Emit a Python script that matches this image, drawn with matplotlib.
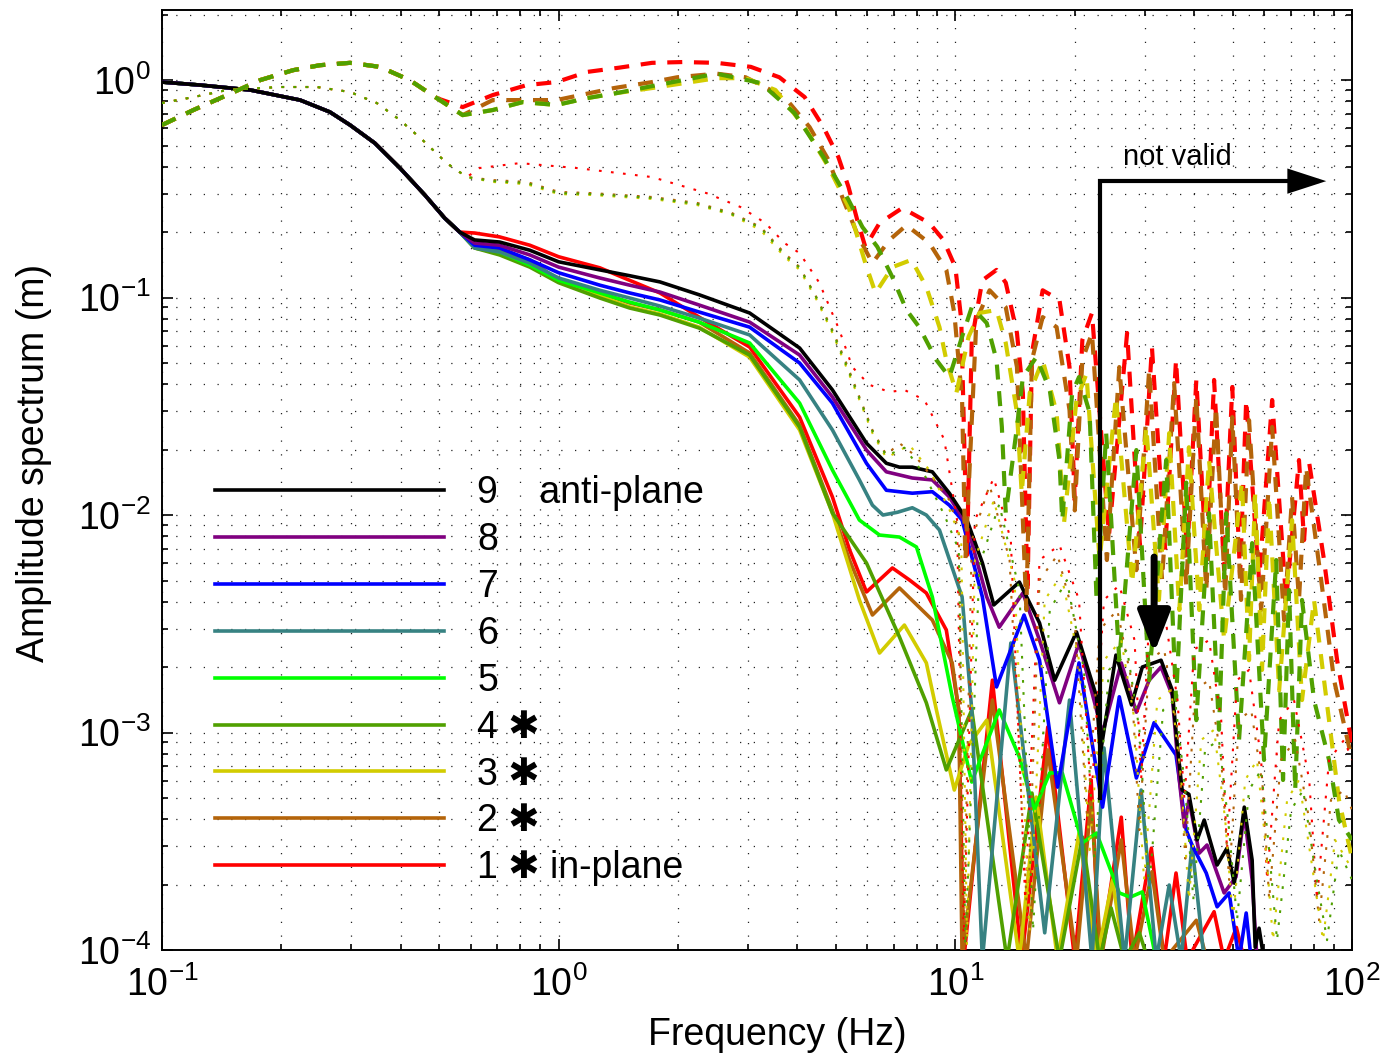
import matplotlib
matplotlib.use("Agg")
import matplotlib.pyplot as plt
from matplotlib.ticker import LogLocator, NullFormatter

plt.rcParams["font.family"] = ["Liberation Sans", "DejaVu Sans"]
plt.rcParams["mathtext.default"] = "regular"
plt.rcParams["axes.unicode_minus"] = False

# common low-frequency part of the solid (total) spectra
f_low = [0.1, 0.125, 0.167, 0.223, 0.265, 0.298, 0.344, 0.398, 0.46, 0.516, 0.563]
a_low = [0.979, 0.948, 0.90, 0.809, 0.713, 0.621, 0.513, 0.394, 0.296, 0.232, 0.200]

f_tail = [0.614, 0.71, 0.846, 1.0, 1.27, 1.51, 1.80, 2.26, 3.03, 4.05, 4.90]

# solid spectra, cases 1..9 (continuation after f_low)
f_s1 = f_tail + [5.41, 5.97, 6.94, 7.66, 8.45, 9.49, 10.2, 10.5, 12.4, 14.7, 17.1, 20.0, 22.0, 23.1,
                 26.2, 27.9, 31.2, 33.6, 36.0, 38.4, 44.9, 47.6, 51.1, 53.5]
a_s1 = [0.198, 0.190, 0.174, 0.154, 0.137, 0.120, 0.105, 0.0813, 0.0592, 0.0282, 0.0121,
        0.00693, 0.00443, 0.00571, 0.00503, 0.00438, 0.00296, 0.00127, 0.00009, 0.00174, 0.00009,
        0.00106, 0.00009, 0.000605, 0.00009, 0.000408, 0.00009, 0.000294, 0.00009, 0.000226,
        0.00009, 0.00015, 0.00009, 0.000127, 0.00009]

f_s2 = f_tail + [5.41, 6.18, 7.23, 8.75, 9.82, 10.2, 10.4, 12.4, 15.1, 17.1, 20.2, 22.0, 23.3,
                 26.2, 28.3, 31.3, 33.6, 40.5, 43.1]
a_s2 = [0.171, 0.165, 0.149, 0.120, 0.105, 0.0944, 0.0877, 0.0771, 0.0556, 0.0259, 0.0105,
        0.00621, 0.00347, 0.00462, 0.00329, 0.00209, 0.00127, 0.00009, 0.00141, 0.00009,
        0.000832, 0.00009, 0.000490, 0.00009, 0.000321, 0.00009, 0.000229, 0.00009, 0.000137, 0.00009]

f_s3 = f_tail + [5.73, 6.44, 7.44, 8.45, 8.96, 9.94, 10.8, 12.0, 14.5, 16.0, 18.1, 20.5, 22.7,
                 24.9, 26.7]
a_s3 = [0.169, 0.160, 0.141, 0.118, 0.1016, 0.0905, 0.0840, 0.0731, 0.0532, 0.0246, 0.0102,
        0.00407, 0.00232, 0.00312, 0.00209, 0.00127, 0.000544, 0.000877, 0.00114, 0.00009,
        0.000505, 0.00009, 0.000345, 0.00009, 0.00021, 0.00009]

f_s4 = f_tail + [5.97, 7.23, 8.45, 9.49, 11.0, 13.5, 15.6, 18.3, 20.9, 23.1, 24.7, 26.7, 29.1, 30.6]
a_s4 = [0.169, 0.157, 0.138, 0.117, 0.0995, 0.0895, 0.0831, 0.0724, 0.0544, 0.0254, 0.0102,
        0.00602, 0.00275, 0.00137, 0.000673, 0.00127, 0.00009, 0.000527, 0.00009, 0.000331,
        0.00009, 0.000156, 0.00009, 0.00012, 0.00009]

f_s5 = f_tail + [5.73, 6.44, 7.23, 7.98, 8.75, 9.82, 11.0, 12.9, 14.5, 15.8, 17.3, 18.6, 20.9,
                 22.7, 25.9, 27.6, 29.6, 32.1]
a_s5 = [0.171, 0.162, 0.141, 0.120, 0.105, 0.0953, 0.0877, 0.0771, 0.0618, 0.0327, 0.0161,
        0.00948, 0.00809, 0.00792, 0.00713, 0.00420, 0.00146, 0.000592, 0.00127, 0.000772,
        0.00044, 0.000652, 0.000652, 0.000311, 0.000345, 0.000183, 0.000175, 0.000185, 0.00009]

f_s6 = f_tail + [5.73, 6.18, 6.57, 7.15, 7.79, 8.45, 9.12, 10.4, 11.0, 11.7, 13.8, 16.8, 19.4,
                 22.1, 23.7, 26.7, 29.4, 32.1, 34.6, 37.1, 39.5, 42.4]
a_s6 = [0.169, 0.162, 0.144, 0.123, 0.108, 0.0995, 0.0914, 0.0805, 0.0673, 0.0418, 0.0246,
        0.0145, 0.0111, 0.0100, 0.0103, 0.0108, 0.0100, 0.00853, 0.00420, 0.00127, 0.00009,
        0.00258, 0.00012, 0.00141, 0.00009, 0.000849, 0.00009, 0.000544, 0.00009, 0.000199,
        0.00009, 0.000304, 0.00009]

f_s7 = f_tail + [5.97, 6.70, 7.79, 8.75, 9.66, 10.4, 11.7, 12.7, 14.9, 16.3, 18.1, 20.5, 23.5,
                 25.9, 28.6, 31.7, 34.6, 36.0, 38.2, 39.5, 42.9, 45.7, 49.0, 51.9, 54.1, 55.7]
a_s7 = [0.174, 0.169, 0.149, 0.130, 0.114, 0.105, 0.0975, 0.0858, 0.0731, 0.0500, 0.0327,
        0.0173, 0.0130, 0.0126, 0.0128, 0.0111, 0.00948, 0.00420, 0.00162, 0.00347, 0.00215,
        0.000561, 0.00209, 0.000454, 0.00146, 0.000618, 0.00111, 0.000877, 0.000788, 0.000356,
        0.000304, 0.000226, 0.000158, 0.000183, 0.00009, 0.000148, 0.00009]

f_s8 = f_tail + [5.97, 6.70, 7.79, 8.75, 9.66, 10.7, 12.0, 12.9, 14.8, 16.3, 18.3, 20.5, 23.5,
                 26.2, 28.6, 30.8, 33.0, 35.2, 36.7, 37.8, 38.8, 41.2, 43.1, 47.6, 51.0, 53.5,
                 56.0, 57.6]
a_s8 = [0.178, 0.174, 0.157, 0.138, 0.123, 0.114, 0.106, 0.0924, 0.0771, 0.0544, 0.0349,
        0.0199, 0.0158, 0.0148, 0.0145, 0.0121, 0.0090, 0.00420, 0.00305, 0.00438, 0.00266,
        0.00137, 0.00258, 0.000995, 0.00209, 0.00124, 0.00174, 0.00200, 0.00149, 0.000605,
        0.000368, 0.00049, 0.000279, 0.000304, 0.000183, 0.000217, 0.000427, 0.000210, 0.00009]

f_s9 = f_tail + [5.97, 6.70, 7.23, 7.79, 8.75, 9.66, 10.7, 11.7, 12.5, 14.5, 16.3, 17.8, 20.2,
                 22.7, 23.2, 25.4, 27.8, 29.6, 33.0, 35.2, 36.3, 37.3, 38.8, 40.7, 42.4, 45.7,
                 48.4, 50.5, 53.5, 56.0, 57.0, 58.3, 60.0]
a_s9 = [0.184, 0.180, 0.165, 0.146, 0.134, 0.126, 0.118, 0.103, 0.0849, 0.0586, 0.0376,
        0.0214, 0.0173, 0.0166, 0.0166, 0.0158, 0.0126, 0.00948, 0.00602, 0.00386, 0.00492,
        0.00319, 0.00174, 0.00290, 0.00146, 0.0008, 0.00227, 0.00134, 0.00200, 0.00215,
        0.00157, 0.000858, 0.000544, 0.00052, 0.000321, 0.000396, 0.000246, 0.000294,
        0.000203, 0.000454, 0.000259, 0.000103, 0.000126, 0.00009]

# in-plane component (dashed), cases 1..4; common start
f_dlow = [0.1, 0.120, 0.146, 0.177, 0.214, 0.250, 0.298, 0.354, 0.421, 0.493]
a_dlow = [0.621, 0.728, 0.853, 1.0, 1.11, 1.17, 1.20, 1.15, 1.0, 0.826]

f_d1 = [0.573, 0.682, 0.831, 0.988, 1.18, 1.42, 1.72, 2.05, 2.50, 3.05, 3.60, 4.17, 4.65, 5.07,
        5.38, 5.66, 5.93, 6.44, 7.35, 8.60, 9.33, 10.0, 10.35, 10.7, 11.0, 11.7, 12.7, 13.4, 14.3,
        14.8, 15.2, 15.6, 16.6, 18.3, 19.4, 20.0, 20.9, 22.1, 24.4, 27.1, 29.2, 31.3, 33.8, 36.0,
        38.4, 40.5, 42.9, 44.9, 47.6, 49.9, 52.2, 54.1, 58.3, 62.9, 68.2, 73.5, 75.7, 78.0,
        85.0, 91.7, 100]
a_d1 = [0.751, 0.853, 0.948, 0.979, 1.09, 1.14, 1.20, 1.21, 1.20, 1.15, 1.03, 0.835, 0.608,
        0.443, 0.322, 0.227, 0.171, 0.220, 0.258, 0.220, 0.184, 0.138, 0.0788, 0.00655, 0.0638,
        0.120, 0.134, 0.117, 0.0687, 0.0364, 0.00438, 0.0556, 0.108, 0.0975, 0.0479, 0.0117,
        0.0638, 0.0849, 0.00809, 0.0687, 0.00728, 0.0592, 0.00693, 0.0516, 0.00655, 0.0418,
        0.00621, 0.0418, 0.00558, 0.0388, 0.00530, 0.0338, 0.00502, 0.0338, 0.00407, 0.0179,
        0.00767, 0.0173, 0.00621, 0.00215, 0.000877]

f_d2 = [0.573, 0.682, 0.988, 1.38, 1.72, 1.99, 2.50, 2.96, 3.71, 4.29, 4.79, 5.22, 5.70, 6.18,
        6.82, 7.53, 8.60, 9.49, 9.94, 10.4, 10.6, 11.3, 12.2, 13.4, 14.3, 15.1, 15.6, 16.6,
        18.0, 19.4, 20.0, 20.9, 22.1, 24.1, 25.9, 28.6, 30.8, 33.2, 35.6, 38.2, 40.5, 42.9,
        45.4, 47.9, 49.9, 52.5, 55.0, 59.0, 62.9, 67.4, 70.6, 73.5, 76.6, 83.6, 90.1, 100]
a_d2 = [0.690, 0.809, 0.809, 0.919, 0.979, 1.03, 1.07, 1.03, 0.835, 0.608, 0.429, 0.281,
        0.190, 0.144, 0.184, 0.215, 0.178, 0.134, 0.0849, 0.0338, 0.00621, 0.0788, 0.108,
        0.0903, 0.0479, 0.00366, 0.0516, 0.0813, 0.0731, 0.0304, 0.0105, 0.0516, 0.0687,
        0.00621, 0.0479, 0.00558, 0.0465, 0.00502, 0.0404, 0.00476, 0.0349, 0.00452, 0.0314,
        0.00430, 0.0282, 0.00407, 0.0273, 0.00366, 0.0254, 0.00329, 0.0121, 0.00407, 0.0166,
        0.00502, 0.00174, 0.000748]

f_d3 = [0.573, 0.682, 0.812, 0.988, 1.18, 1.40, 1.72, 2.50, 2.96, 3.52, 4.17, 4.79, 5.38, 5.93,
        6.29, 6.94, 7.75, 8.45, 9.12, 9.49, 10.06, 10.8, 11.5, 12.7, 13.4, 14.3, 14.7, 15.4,
        16.6, 18.0, 18.8, 20.2, 21.4, 23.1, 25.4, 27.9, 30.3, 32.6, 34.6, 36.7, 38.8, 41.2,
        43.6, 47.6, 52.8, 55.0, 57.0, 59.3, 61.8, 65.5, 70.6, 74.8, 80.2, 87.5, 92.7, 100]
a_d3 = [0.690, 0.728, 0.792, 0.768, 0.826, 0.871, 0.919, 1.02, 1.02, 0.90, 0.608, 0.398,
        0.261, 0.144, 0.105, 0.138, 0.149, 0.112, 0.0731, 0.0516, 0.0364, 0.0661, 0.0849,
        0.0877, 0.0618, 0.0296, 0.0126, 0.0364, 0.0516, 0.0296, 0.00926, 0.0338, 0.0446,
        0.00621, 0.0349, 0.00486, 0.0254, 0.00407, 0.0238, 0.00366, 0.0205, 0.00366, 0.0179,
        0.00266, 0.0141, 0.00215, 0.0126, 0.00194, 0.0121, 0.00156, 0.00948, 0.00141, 0.00407,
        0.00114, 0.00049, 0.000263]

f_d4 = [0.573, 0.682, 0.812, 0.988, 1.18, 1.40, 1.72, 2.50, 3.23, 3.93, 4.65, 5.38, 5.83, 6.36,
        6.94, 7.53, 8.11, 8.96, 9.66, 10.4, 11.0, 12.0, 12.7, 13.1, 13.4, 14.3, 14.8, 16.0,
        17.3, 18.3, 18.6, 19.7, 20.5, 21.8, 22.7, 24.0, 25.9, 28.6, 30.8, 34.0, 36.0, 38.2,
        40.5, 43.6, 46.2, 48.2, 51.9, 56.0, 60.0, 64.4, 67.0, 69.4, 71.9, 74.8, 80.2, 87.5,
        92.7, 100]
a_d4 = [0.690, 0.728, 0.792, 0.768, 0.826, 0.871, 0.938, 1.07, 0.969, 0.705, 0.443, 0.281,
        0.211, 0.171, 0.124, 0.0877, 0.0731, 0.0516, 0.0431, 0.0661, 0.0903, 0.0763, 0.0516,
        0.0254, 0.0102, 0.0254, 0.0431, 0.0532, 0.0376, 0.0179, 0.00948, 0.0364, 0.0431,
        0.0296, 0.00407, 0.0238, 0.00215, 0.0199, 0.00174, 0.0179, 0.00141, 0.0141, 0.00114,
        0.0102, 0.00103, 0.0102, 0.000925, 0.00743, 0.000748, 0.00621, 0.000605, 0.00452,
        0.000544, 0.00407, 0.00141, 0.000748, 0.000396, 0.000321]

# anti-plane part of cases 1..4 (thin dotted); common start
f_plow = [0.1, 0.120, 0.146, 0.198, 0.246, 0.298, 0.348, 0.398, 0.454, 0.522, 0.587]
a_plow = [0.784, 0.835, 0.90, 0.929, 0.929, 0.881, 0.784, 0.655, 0.530, 0.415, 0.358]

f_p1 = [0.632, 0.798, 1.11, 1.72, 2.36, 2.87, 3.32, 3.71, 4.05, 4.54, 5.10, 5.50, 6.07, 6.82,
        7.44, 8.36, 9.38, 10.1, 10.5, 11.2, 12.5, 13.8, 15.0, 16.3, 18.3, 20.5, 22.0, 23.7,
        25.9, 28.3, 29.4, 30.8, 33.6, 36.3, 37.8, 40.0, 43.6, 46.8, 48.4, 51.3, 55.0, 59.0,
        61.1, 65.5, 71.4, 78.0, 81.6, 87.5, 95.5, 100]
a_p1 = [0.394, 0.415, 0.394, 0.358, 0.302, 0.261, 0.220, 0.178, 0.160, 0.117, 0.0709, 0.0479,
        0.0397, 0.0368, 0.0376, 0.0338, 0.0222, 0.00948, 0.000111, 0.00948, 0.0148, 0.00767,
        0.000171, 0.00621, 0.00728, 0.00407, 0.00049, 0.00407, 0.00476, 0.00266, 0.000605,
        0.00329, 0.00366, 0.00141, 0.00049, 0.00241, 0.00266, 0.00114, 0.000288, 0.00174,
        0.00194, 0.000748, 0.000210, 0.00114, 0.00141, 0.000605, 0.000171, 0.000748, 0.000925,
        0.000748]

f_p2 = [0.682, 0.831, 1.0, 1.22, 1.72, 2.24, 2.73, 3.23, 3.71, 4.05, 4.47, 4.90, 5.31, 5.73,
        6.18, 6.70, 7.23, 7.88, 8.85, 9.66, 10.2, 10.5, 11.0, 12.2, 13.7, 15.2, 16.3, 18.1,
        20.0, 21.5, 23.1, 25.6, 27.8, 29.1, 30.8, 33.6, 36.3, 38.0, 40.2, 43.6, 46.8, 49.0,
        51.9, 55.7, 59.7, 61.8, 66.2, 71.9, 78.0, 82.6, 88.5, 95.5, 100]
a_p2 = [0.347, 0.340, 0.306, 0.302, 0.290, 0.272, 0.245, 0.211, 0.160, 0.138, 0.100, 0.0709,
        0.0500, 0.0349, 0.0246, 0.0189, 0.0214, 0.0189, 0.0145, 0.0117, 0.00853, 0.000111,
        0.00767, 0.0137, 0.00621, 0.000137, 0.00502, 0.00655, 0.00329, 0.000396, 0.00296,
        0.00366, 0.00174, 0.000356, 0.00215, 0.00241, 0.00103, 0.000263, 0.00157, 0.00174,
        0.000748, 0.000210, 0.00114, 0.00127, 0.000544, 0.000171, 0.000748, 0.000925,
        0.000396, 0.000137, 0.00049, 0.000544, 0.00044]

f_p3 = [0.682, 0.831, 1.0, 1.22, 1.72, 2.24, 2.73, 3.23, 3.71, 4.05, 4.47, 4.90, 5.31, 5.73,
        6.18, 6.70, 7.66, 8.60, 9.66, 10.35, 10.7, 11.2, 12.5, 14.1, 15.4, 16.8, 18.5, 20.5,
        21.8, 23.7, 26.2, 28.3, 29.9, 32.3, 35.0, 37.1, 38.8, 41.7, 44.9, 47.9, 50.1, 53.8,
        57.6, 60.4, 63.2, 68.6, 73.5, 78.8, 84.5, 90.6, 100]
a_p3 = [0.340, 0.332, 0.299, 0.296, 0.284, 0.266, 0.240, 0.204, 0.154, 0.134, 0.0975, 0.0687,
        0.0479, 0.0338, 0.0238, 0.0183, 0.0210, 0.0161, 0.0106, 0.00767, 0.000105, 0.00621,
        0.0117, 0.00502, 0.000123, 0.00407, 0.00530, 0.00215, 0.000288, 0.00215, 0.00266,
        0.00114, 0.000210, 0.00141, 0.00157, 0.000605, 0.000171, 0.000925, 0.00103, 0.000396,
        0.000137, 0.000605, 0.000748, 0.000321, 0.000111, 0.00049, 0.000605, 0.000263,
        0.000111, 0.000321, 0.000235]

f_p4 = [0.682, 0.831, 1.0, 1.22, 1.72, 2.24, 2.73, 3.23, 3.71, 4.05, 4.47, 4.90, 5.31, 5.73,
        6.18, 6.70, 7.44, 8.36, 9.38, 10.2, 10.6, 11.5, 12.9, 14.5, 15.7, 17.3, 19.1, 21.1,
        22.4, 24.4, 27.1, 29.1, 30.8, 33.4, 35.8, 38.0, 39.8, 42.6, 46.2, 49.0, 51.3, 55.0,
        59.0, 61.8, 64.7, 70.2, 75.3, 80.7, 86.5, 92.7, 100]
a_p4 = [0.343, 0.336, 0.302, 0.299, 0.287, 0.269, 0.242, 0.209, 0.157, 0.137, 0.0995, 0.0698,
        0.0489, 0.0344, 0.0243, 0.0187, 0.0204, 0.0153, 0.0100, 0.00693, 0.000105, 0.00588,
        0.0112, 0.00452, 0.000123, 0.00366, 0.00502, 0.00194, 0.000263, 0.00194, 0.00241,
        0.00103, 0.000190, 0.00127, 0.00141, 0.000544, 0.000171, 0.000832, 0.000925, 0.000356,
        0.000137, 0.000544, 0.000673, 0.000288, 0.000111, 0.00044, 0.000544, 0.000235,
        0.000111, 0.000288, 0.000210]

case_labels = ["1", "2", "3", "4", "5", "6", "7", "8", "9"]
case_colors = ["#ff0000", "#b4640a", "#d2cc00", "#50a000", "#00ff00",
               "#378282", "#0000ff", "#800080", "#000000"]
solid_f = [f_s1, f_s2, f_s3, f_s4, f_s5, f_s6, f_s7, f_s8, f_s9]
solid_a = [a_s1, a_s2, a_s3, a_s4, a_s5, a_s6, a_s7, a_s8, a_s9]
dashed_f = [f_d1, f_d2, f_d3, f_d4]
dashed_a = [a_d1, a_d2, a_d3, a_d4]
dotted_f = [f_p1, f_p2, f_p3, f_p4]
dotted_a = [a_p1, a_p2, a_p3, a_p4]

# annotation positions (Hz, m)
cutoff_freq = 23.1
cutoff_top = 0.343
cutoff_bottom = 0.0005
cutoff_end = 87.5
text_freq, text_amp = 36.2, 0.443
peak_freq, peak_top, peak_tip = 31.7, 0.0066, 0.00225

FS = 27

fig = plt.figure(figsize=(13.95, 10.61), dpi=100)
ax = fig.add_axes([0.1161, 0.1046, 0.8531, 0.886])
ax.set_xscale("log")
ax.set_yscale("log")

solid_lines = []
for f, a, c, lab in zip(solid_f, solid_a, case_colors, case_labels):
    line, = ax.plot(f_low + f, a_low + a, color=c, lw=2.6, solid_joinstyle="round", zorder=3)
    solid_lines.append(line)

for f, a, c in zip(dashed_f, dashed_a, case_colors[:4]):
    ax.plot(f_dlow + f, a_dlow + a, color=c, lw=3.0, linestyle=(0, (3.6, 2.8)), zorder=4)

for f, a, c in zip(dotted_f, dotted_a, case_colors[:4]):
    ax.plot(f_plow + f, a_plow + a, color=c, lw=1.5, linestyle=(0, (1.3, 4.5)), zorder=5)

ax.set_xlim(0.1, 100)
ax.set_ylim(1e-4, 2.1)

ax.xaxis.set_major_locator(LogLocator(base=10, numticks=10))
ax.yaxis.set_major_locator(LogLocator(base=10, numticks=10))
for axis in (ax.xaxis, ax.yaxis):
    axis.set_minor_locator(LogLocator(base=10, subs=range(2, 10), numticks=20))
    axis.set_minor_formatter(NullFormatter())

ax.tick_params(which="both", direction="in", top=True, right=True, width=1.2)
ax.tick_params(which="major", length=8, labelsize=FS)
ax.tick_params(which="minor", length=4)
ax.tick_params(axis="x", which="major", pad=12)
ax.tick_params(axis="y", which="major", pad=8)
for sp in ax.spines.values():
    sp.set_linewidth(1.4)

ax.grid(True, which="both", color="#222222", lw=0.9, linestyle=(0, (1, 10)))
ax.set_axisbelow(True)

ax.set_xlabel("Frequency (Hz)", fontsize=FS)
ax.set_ylabel("Amplitude spectrum (m)", fontsize=FS)
ax.xaxis.set_label_coords(0.517, -0.071)
ax.yaxis.set_label_coords(-0.092, 0.518)

# legend, listed from 9 (anti-plane) down to 1 (in-plane)
legend_text = ["9    anti-plane", "8", "7", "6", "5", "4 \u2731", "3 \u2731", "2 \u2731",
               "1 \u2731 in-plane"]
leg = ax.legend(solid_lines[::-1], legend_text, loc="upper left",
                bbox_to_anchor=(0.0445, 0.505), frameon=False, fontsize=FS,
                handlelength=6.1, handletextpad=0.9, labelspacing=0.29,
                borderpad=0, borderaxespad=0)
leg.set_zorder(6)

# limit of validity
ax.plot([cutoff_freq, cutoff_freq, cutoff_end * 0.93], [cutoff_bottom, cutoff_top, cutoff_top],
        color="k", lw=3, zorder=7, solid_joinstyle="miter")
ax.annotate("", xy=(cutoff_end, cutoff_top), xytext=(cutoff_end * 0.9, cutoff_top),
            arrowprops=dict(arrowstyle="-|>,head_length=2.0,head_width=0.65",
                            mutation_scale=14, color="k", lw=0), zorder=7)
ax.text(text_freq, text_amp, "not valid", fontsize=21, ha="center", va="center", zorder=7)

ax.annotate("", xy=(peak_freq, peak_tip), xytext=(peak_freq, peak_top),
            arrowprops=dict(arrowstyle="-|>,head_length=1.8,head_width=0.7",
                            mutation_scale=14, color="k", lw=5), zorder=7)

fig.savefig("out.png", dpi=100)
